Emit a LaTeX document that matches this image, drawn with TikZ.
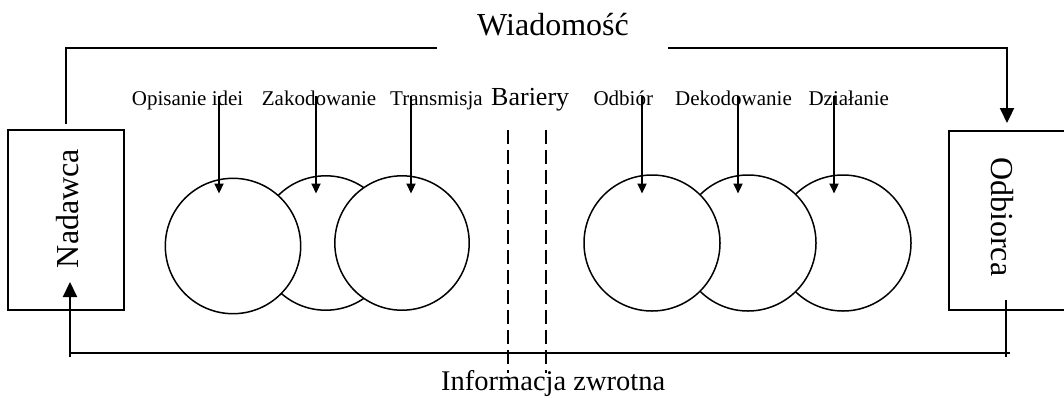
\documentclass[tikz,border=0pt]{standalone}
\usepackage{fontspec}
\setmainfont{Liberation Serif}
\usetikzlibrary{arrows.meta}
\begin{document}
\begin{tikzpicture}[x=1pt,y=-1pt,
  bigarrow/.style={line width=2.2pt,-{Triangle[width=14pt,length=15pt]}},
  smallarrow/.style={line width=2.2pt,-{Triangle[width=9pt,length=10pt]}},
  link/.style={line width=2.2pt},
  stagecircle/.style={circle,draw,fill=white,line width=1.5pt,inner sep=0pt},
  partybox/.style={draw,line width=1.5pt,minimum width=116pt,minimum height=180pt,inner sep=0pt},
  barrier/.style={line width=1.6pt,dash pattern=on 14pt off 6pt},
  stagelabel/.style={anchor=base west,inner sep=0pt,font=\fontsize{21}{24}\selectfont},
  every node/.append style={text=black}]
\useasboundingbox (0,0) rectangle (1064,397);

% sender and receiver
\node[partybox] (sender) at (66,220) {};
\node[rotate=90,inner sep=0pt,font=\fontsize{32}{36}\selectfont] (sendertext) at (67.5,208.5) {Nadawca};
\draw[line width=1.5pt] (1066,131) -- (949,131) -- (949,310) -- (1066,310);
\coordinate (receiver) at (1007,131);
\node[rotate=-90,inner sep=0pt,font=\fontsize{32}{36}\selectfont] (receivertext) at (1002,216.7) {Odbiorca};

% message path
\node[anchor=base,inner sep=0pt,font=\fontsize{32}{36}\selectfont] (message) at (553,35) {Wiadomość};
\coordinate (mstart) at (66,124);
\coordinate (mleft) at (437,48);
\coordinate (mright) at (668,48);
\coordinate (mend) at (1007,123);
\draw[link] (mstart) |- (mleft);
\draw[bigarrow] (mright) -| (mend);

% feedback path
\node[anchor=base west,inner sep=0pt,font=\fontsize{28.5}{32}\selectfont] (feedback) at (441,390) {Informacja zwrotna};
\coordinate (fbleft) at (70,357);
\coordinate (fbtip) at (70,282);
\coordinate (fbtop) at (1006,300);
\coordinate (fbbottom) at (1006,357);
\draw[link] (70,353) -- (1010,353);
\draw[link] (fbtop) -- (fbbottom);
\draw[bigarrow] (fbleft) -- (fbtip);

% barriers
\node[anchor=base west,inner sep=0pt,font=\fontsize{26}{30}\selectfont] (barriers) at (491,105) {Bariery};
\coordinate (b1top) at (508,130);
\coordinate (b1bot) at (508,373);
\coordinate (b2top) at (546,130);
\coordinate (b2bot) at (546,373);
\draw[barrier] (b1top) -- (b1bot);
\draw[barrier] (b2top) -- (b2bot);

% sending stages
\node[stagecircle,minimum size=134.4pt] (c2) at (325.7,243) {};
\node[stagecircle,minimum size=135.4pt] (c1) at (233,246) {};
\node[stagecircle,minimum size=134.4pt] (c3) at (402,243) {};

% receiving stages
\node[stagecircle,minimum size=136pt] (c6) at (843,243) {};
\node[stagecircle,minimum size=136pt] (c5) at (748,243) {};
\node[stagecircle,minimum size=136pt] (c4) at (652,243) {};

% stage labels
\node[stagelabel] (l1) at (131.7,105.5) {Opisanie idei};
\node[stagelabel] (l2) at (261.7,105.5) {Zakodowanie};
\node[stagelabel] (l3) at (390,105.5) {Transmisja};
\node[stagelabel] (l4) at (593.3,105.5) {Odbiór};
\node[stagelabel] (l5) at (675,105.5) {Dekodowanie};
\node[stagelabel] (l6) at (808.3,105.5) {Działanie};

% stage arrows
\foreach \x/\n in {219/a1,316/a2,411/a3,642/a4,738/a5,834/a6}{
  \coordinate (\n s) at (\x,96);
  \coordinate (\n e) at (\x,193.5);
  \draw[smallarrow] (\n s) -- (\n e);
}
\end{tikzpicture}
\end{document}
